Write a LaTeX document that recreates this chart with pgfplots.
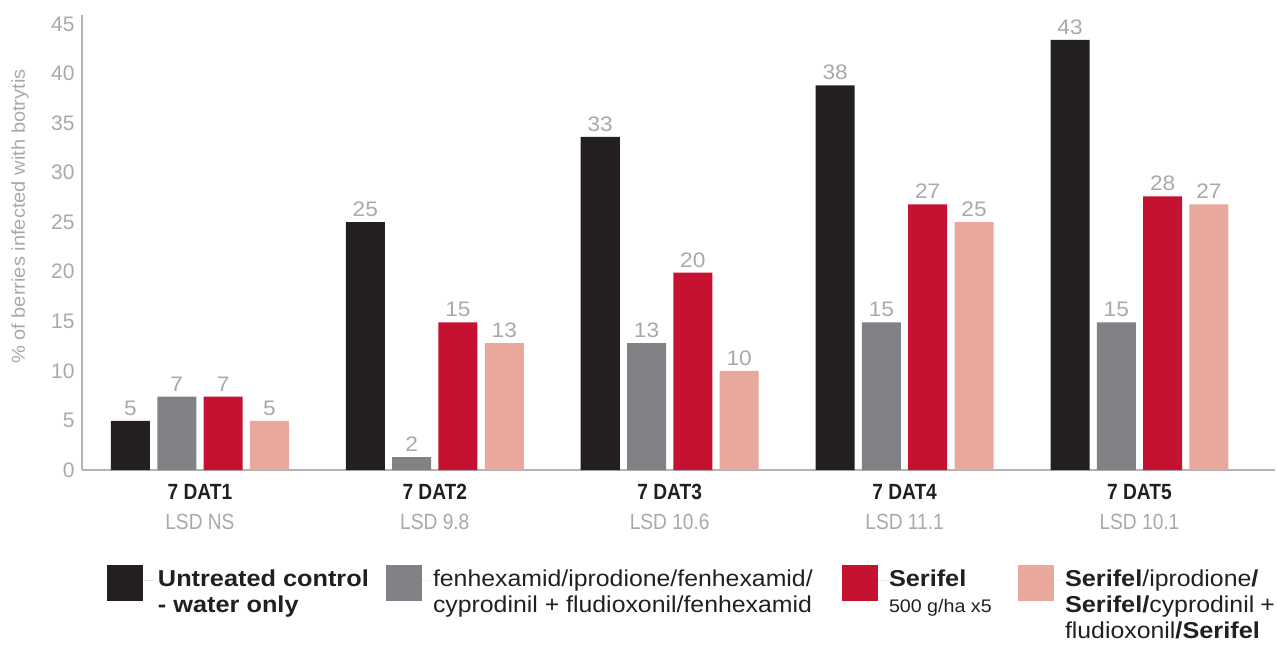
\documentclass[border=0pt]{standalone}
\usepackage{pgfplots}
\usepackage{pgfplotstable}
\pgfplotsset{compat=1.18}
\usepackage{fontspec}
\setmainfont{Liberation Sans}
\newfontfamily\condfont[FakeStretch=0.87]{Liberation Sans}
\newfontfamily\wideregular[FakeStretch=1.08]{Liberation Sans}
\newfontfamily\widebold[FakeStretch=1.1]{Liberation Sans}
\newcommand{\B}[1]{{\widebold\bfseries #1}}
\definecolor{cblack}{HTML}{231F20}
\definecolor{cgrey}{HTML}{808285}
\definecolor{cred}{HTML}{C41230}
\definecolor{cpink}{HTML}{E8A89B}
\definecolor{lblgrey}{HTML}{A7A9AC}
\definecolor{axgrey}{HTML}{B3B3B3}

\pgfplotstableread{
x h lab
0 4.95 5
1 25.0 25
2 33.6 33
3 38.8 38
4 43.4 43
}\tblack
\pgfplotstableread{
x h lab
0 7.4 7
1 1.3 2
2 12.8 13
3 14.9 15
4 14.9 15
}\tgrey
\pgfplotstableread{
x h lab
0 7.4 7
1 14.9 15
2 19.9 20
3 26.8 27
4 27.6 28
}\tred
\pgfplotstableread{
x h lab
0 4.95 5
1 12.8 13
2 10.0 10
3 25.0 25
4 26.8 27
}\tpink

\begin{document}
\begin{tikzpicture}
\begin{axis}[
  scale only axis,
  width=596.5pt, height=227.5pt,
  xmin=-0.502, xmax=4.577,
  ymin=0, ymax=45.9,
  clip=false,
  axis lines=left,
  axis line style={-, draw=axgrey, line width=0.7pt},
  major tick length=0pt,
  ytick={0,5,...,45},
  xtick={0,1,2,3,4},
  xticklabels={
    {\bfseries 7 DAT1\\\color{lblgrey}LSD NS},
    {\bfseries 7 DAT2\\\color{lblgrey}LSD 9.8},
    {\bfseries 7 DAT3\\\color{lblgrey}LSD 10.6},
    {\bfseries 7 DAT4\\\color{lblgrey}LSD 11.1},
    {\bfseries 7 DAT5\\\color{lblgrey}LSD 10.1}},
  xticklabel style={align=center, font=\condfont\fontsize{11}{15}\selectfont, text=cblack, anchor=north, inner sep=0pt, yshift=-7.1pt},
  /pgf/number format/assume math mode=true,
  yticklabel style={font=\fontsize{10.5}{12}\selectfont, text=lblgrey, anchor=east, inner sep=0pt, xshift=-3.5pt},
  ylabel={\% of berries infected with botrytis},
  every axis y label/.style={at={(axis description cs:0,0.557)}, xshift=-31pt, rotate=90, anchor=center, font=\wideregular\fontsize{9.3}{10}\selectfont, text=lblgrey},
  ybar=3.65pt, bar width=19.5pt,
  nodes near coords,
  point meta=explicit symbolic,
  nodes near coords style={font=\wideregular\fontsize{10.5}{11}\selectfont, text=lblgrey, anchor=south, inner sep=0pt, yshift=2.5pt},
  legend columns=4,
  legend cell align=left,
  legend style={at={(0,0)}, anchor=north west, xshift=12.5pt, yshift=-47.5pt, draw=none, fill=none, inner sep=0pt, outer sep=0pt, column sep=0pt, row sep=0pt, font=\wideregular\fontsize{11.5}{12.8}\selectfont, text=cblack, nodes={inner sep=0pt, outer sep=0pt}},
  legend image code/.code={\fill[#1] (0pt,-10.5pt) rectangle (18pt,7.5pt); \path (0pt,0pt) -- (23.5pt,0pt);},
]
\addplot[fill=cblack, draw=none] table[x=x, y=h, meta=lab] {\tblack};
\addplot[fill=cgrey, draw=none] table[x=x, y=h, meta=lab] {\tgrey};
\addplot[fill=cred, draw=none] table[x=x, y=h, meta=lab] {\tred};
\addplot[fill=cpink, draw=none] table[x=x, y=h, meta=lab] {\tpink};
\addlegendentry{\parbox[t]{116pt}{\raggedright\hspace*{2pt}\B{Untreated control}\\\hspace*{2pt}\B{- water only}}}
\addlegendentry{\parbox[t]{204.5pt}{\raggedright fenhexamid/iprodione/fenhexamid/\\cyprodinil + fludioxonil/fenhexamid}}
\addlegendentry{\parbox[t]{64.5pt}{\raggedright\B{Serifel}\\{\fontsize{9.1}{12.8}\selectfont 500 g/ha x5}}}
\addlegendentry{\parbox[t]{105pt}{\raggedright\B{Serifel}/iprodione\B{/}\\\B{Serifel/}cyprodinil +\\fludioxonil\B{/Serifel}}}
\end{axis}
\pgfresetboundingbox
\path[use as bounding box] (-41pt,-87.5pt) rectangle (597.5pt,235pt);
\end{tikzpicture}
\end{document}
